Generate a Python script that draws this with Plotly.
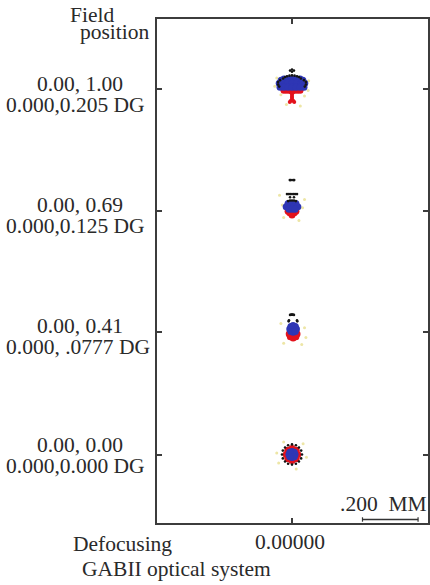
import plotly.graph_objects as go

# ---------------- data (spot offsets in micrometres, relative to each field's chief ray) ----------------
FIELD_LABELS_1 = ["0.00, 1.00", "0.00, 0.69", "0.00, 0.41", "0.00, 0.00"]
FIELD_LABELS_2 = ["0.000,0.205 DG", "0.000,0.125 DG", "0.000, .0777 DG", "0.000,0.000 DG"]
FIELD_CENTERS_MM = [1.305, 0.871, 0.4375, 0.0]   # vertical placement of each field row
DEFOCUS_LABEL = "0.00000"
SCALE_BAR_MM = 0.2
SCALE_TEXT = ".200  MM"

# field 1 : 0.00, 1.00
F1_YELLOW_X = [-55, 60, -40, 45, -20, 30, 58, -62]
F1_YELLOW_Y = [40, 30, -20, -25, -55, -60, -5, 10]
F1_RED_X = [-29, -18, -7, 7, 18, 29]
F1_RED_Y = [-4, -4, -4, -4, -4, -4]
F1_RED_TAIL_X = [-4, 4, 0, 0, 0, 0, 0, -4, 4, -8, 8]
F1_RED_TAIL_Y = [-12, -12, -16, -21, -27, -32, -38, -42, -42, -46, -46]
F1_BLUE_X = [-29, -14, 0, 14, 29, -46, -32, -16, 0, 16, 32, 46, -43, -29, -14, 0, 14, 29, 43, -39, 39]
F1_BLUE_Y = [36, 36, 36, 36, 36, 21, 21, 21, 21, 21, 21, 21, 7, 7, 7, 7, 7, 7, 7, 32, 32]
F1_BLACK_X = [-43, -32, -25, -18, -9, 0, 9, 18, 25, 32, 43, -50, 50, -50, 50, -46, 46, -7, 0, 7, 0]
F1_BLACK_Y = [32, 38, 43, 46, 48, 49, 48, 46, 43, 38, 32, 25, 25, 16, 16, 9, 9, 66, 70, 66, 62]

# field 2 : 0.00, 0.69
F2_YELLOW_X = [-35, 38, -30, 25, 45, -45]
F2_YELLOW_Y = [20, 10, -25, -35, 40, 55]
F2_RED_X = [-14, 14, -8, 8, 0, 0]
F2_RED_Y = [-2, -2, -8, -8, -11, -16]
F2_BLUE_X = [-14, 0, 14, -21, -7, 7, 21, -11, 0, 11]
F2_BLUE_Y = [25, 25, 25, 14, 14, 14, 14, 5, 5, 5]
F2_BLACK_X = [-8, -4, 4, 8, -18, -11, -4, 4, 11, 18, -7, 7, -14, -7, 0, 7, 14]
F2_BLACK_Y = [109, 109, 109, 109, 59, 59, 59, 59, 59, 59, 48, 48, 34, 36, 36, 36, 34]

# field 3 : 0.00, 0.41
F3_YELLOW_X = [-40, 45, 35, -30, 50]
F3_YELLOW_Y = [30, 15, -45, -40, -20]
F3_RED_X = [4, 18, 14, 4, -6, -10, -6, 4, 14]
F3_RED_Y = [-7, -7, 3, 7, 3, -7, -17, -21, -17]
F3_BLUE_X = [4, 16, 12, 4, -4, -8, -4, 4, 12]
F3_BLUE_Y = [11, 11, 20, 23, 20, 11, 2, -1, 2]
F3_BLACK_X = [-7, -3, 0, 3, 7, -12, 19, -11, 18]
F3_BLACK_Y = [61, 62, 62, 62, 61, 38, 38, 42, 42]

# field 4 : 0.00, 0.00
F4_YELLOW_X = [-30, 40, 52, -48, 15, -55]
F4_YELLOW_Y = [45, 38, -10, -30, -52, 5]
F4_RED_X = [0, 21, 15, 0, -15, -21, -15, 0, 15]
F4_RED_Y = [0, 0, 15, 21, 15, 0, -15, -21, -15]
F4_BLUE_X = [0, 11, 0, -11, 0, 8, -8, 8, -8]
F4_BLUE_Y = [0, 0, 11, 0, -11, 8, 8, -8, -8]
F4_BLACK_X = [36, 33, 25, 14, 0, -14, -25, -33, -36, -33, -25, -14, 0, 14, 25, 33]
F4_BLACK_Y = [0, 14, 25, 33, 36, 33, 25, 14, 0, -14, -25, -33, -36, -33, -25, -14]

# ---------------- layout geometry ----------------
W, H = 430, 585
L, R, T, B = 157, 0, 19, 62
PLOT_W = W - L - R
PLOT_H = H - T - B
PX_PER_MM = 280.0
X0_PX = 293 - L            # pixel of x = 0 inside plot area
Y0_PX = 523 - 454.5        # pixel of y = 0 above plot bottom
x_range = [-X0_PX / PX_PER_MM, (PLOT_W - X0_PX) / PX_PER_MM]
y_range = [-Y0_PX / PX_PER_MM, (PLOT_H - Y0_PX) / PX_PER_MM]


def px(xp):
    return (xp - L) / PLOT_W


def py(yp):
    return (H - B - yp) / PLOT_H


FONT = dict(family="Liberation Serif, Times New Roman, serif", size=21.5, color="#2a2a2a")
AXIS_COLOR = "#3c3c3c"

fields = [
    (F1_YELLOW_X, F1_YELLOW_Y, F1_RED_X, F1_RED_Y, F1_BLUE_X, F1_BLUE_Y, F1_BLACK_X, F1_BLACK_Y),
    (F2_YELLOW_X, F2_YELLOW_Y, F2_RED_X, F2_RED_Y, F2_BLUE_X, F2_BLUE_Y, F2_BLACK_X, F2_BLACK_Y),
    (F3_YELLOW_X, F3_YELLOW_Y, F3_RED_X, F3_RED_Y, F3_BLUE_X, F3_BLUE_Y, F3_BLACK_X, F3_BLACK_Y),
    (F4_YELLOW_X, F4_YELLOW_Y, F4_RED_X, F4_RED_Y, F4_BLUE_X, F4_BLUE_Y, F4_BLACK_X, F4_BLACK_Y),
]

RED = "#e3121c"
BLUE = "#2e36b4"
BLACK = "#151515"
YELLOW = "#ede6a6"

fig = go.Figure()


def add_points(xs_um, ys_um, center, color, size):
    fig.add_trace(go.Scatter(x=[v / 1000.0 for v in xs_um],
                             y=[center + v / 1000.0 for v in ys_um], mode="markers",
                             marker=dict(color=color, size=size, line=dict(width=0)),
                             showlegend=False, hoverinfo="skip"))


for f, center in zip(fields, FIELD_CENTERS_MM):
    add_points(f[0], f[1], center, YELLOW, 3)
for f, center in zip(fields, FIELD_CENTERS_MM):
    add_points(f[2], f[3], center, RED, 7)
add_points(F1_RED_TAIL_X, F1_RED_TAIL_Y, FIELD_CENTERS_MM[0], RED, 4)
for f, center in zip(fields, FIELD_CENTERS_MM):
    add_points(f[4], f[5], center, BLUE, 7)
for f, center in zip(fields, FIELD_CENTERS_MM):
    add_points(f[6], f[7], center, BLACK, 2.6)

fig.update_layout(
    width=W, height=H, autosize=False,
    margin=dict(l=L, r=R, t=T, b=B, pad=0),
    paper_bgcolor="white", plot_bgcolor="white",
    font=FONT,
    xaxis=dict(range=x_range, showgrid=False, zeroline=False, showline=True,
               linecolor=AXIS_COLOR, linewidth=2, mirror="ticks",
               ticks="inside", ticklen=5, tickwidth=1.5, tickcolor=AXIS_COLOR,
               tickvals=[0], showticklabels=False, fixedrange=True),
    yaxis=dict(range=y_range, showgrid=False, zeroline=False, showline=True,
               linecolor=AXIS_COLOR, linewidth=2, mirror="ticks",
               ticks="inside", ticklen=5, tickwidth=1.5, tickcolor=AXIS_COLOR,
               tickvals=FIELD_CENTERS_MM, showticklabels=False, fixedrange=True),
)

ann = []


def add_text(text, xp, yp):
    ann.append(dict(text=text, x=px(xp), y=py(yp), xref="paper", yref="paper",
                    xanchor="center", yanchor="middle", showarrow=False, font=FONT))


add_text("Field", 91.5, 14.5)
add_text("position", 115, 31.5)
line1_y = [84, 204.5, 326, 444.5]
line2_y = [105, 225.5, 347, 466]
line2_x = [75, 75, 77.5, 75]
for i in range(4):
    add_text(FIELD_LABELS_1[i], 79, line1_y[i])
    add_text(FIELD_LABELS_2[i], line2_x[i], line2_y[i])
add_text("Defocusing", 122, 543.5)
add_text(DEFOCUS_LABEL, 291, 542)
add_text("GABII optical system", 176.5, 568.5)
add_text(SCALE_TEXT, 385.5, 503.5)
fig.update_layout(annotations=ann)

# scale bar of SCALE_BAR_MM
bar_end = (420 - 293) / PX_PER_MM
bar_start = bar_end - SCALE_BAR_MM
bar_y = py(519.5)
cap = 2.2 / PLOT_H
shapes = [
    dict(type="line", xref="x", yref="paper", x0=bar_start, x1=bar_end, y0=bar_y, y1=bar_y,
         line=dict(color="#333333", width=1.5)),
    dict(type="line", xref="x", yref="paper", x0=bar_start, x1=bar_start, y0=bar_y - cap, y1=bar_y + cap,
         line=dict(color="#333333", width=1.2)),
    dict(type="line", xref="x", yref="paper", x0=bar_end, x1=bar_end, y0=bar_y - cap, y1=bar_y + cap,
         line=dict(color="#333333", width=1.2)),
]
fig.update_layout(shapes=shapes)

fig.write_html("out.html", config={"displayModeBar": False},
               post_script="document.body.style.margin='0';document.body.style.padding='0';")
